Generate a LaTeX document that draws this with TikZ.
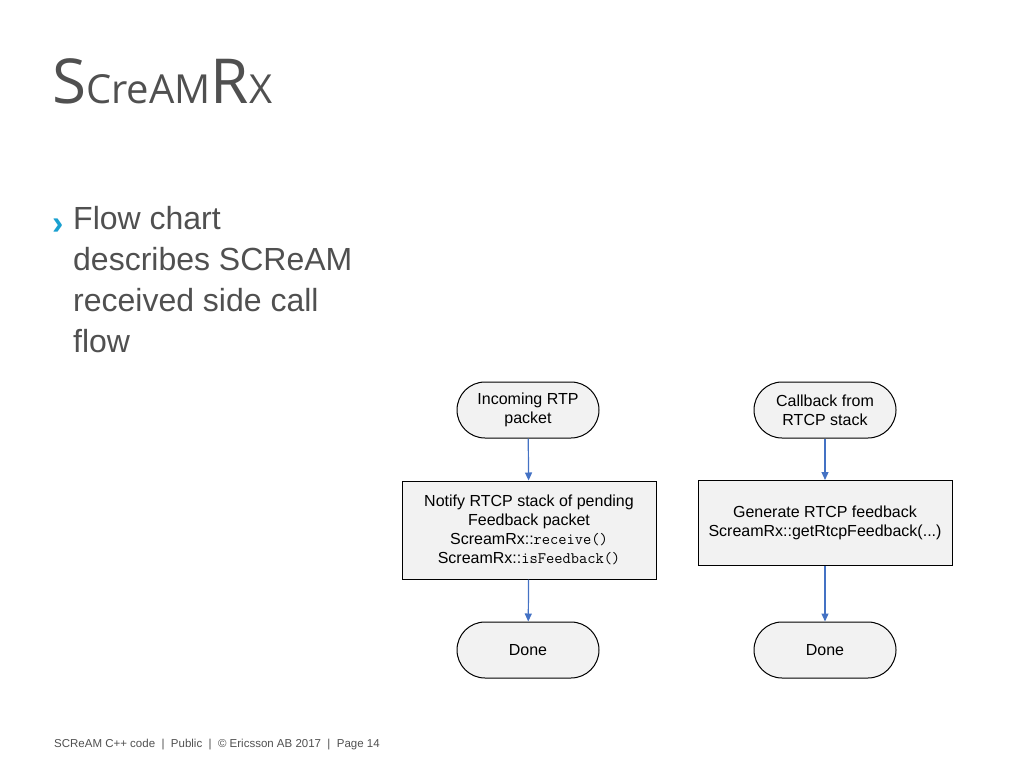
\documentclass[tikz,border=0pt]{standalone}
\usepackage{fontspec}
\setmainfont{Liberation Sans}
\newfontfamily\titlefont{Open Sans}
\usetikzlibrary{positioning,arrows.meta}
\definecolor{txtgray}{HTML}{505050}
\definecolor{chevblue}{HTML}{1AA0D0}
\definecolor{arrblue}{HTML}{4472C4}
\definecolor{boxfill}{HTML}{F2F2F2}
\tikzset{
  term/.style={draw=black, fill=boxfill, rounded corners=28pt, minimum width=142pt,
    minimum height=56pt, align=center, font=\fontsize{16}{19}\selectfont, line width=1pt},
  proc/.style={draw=black, fill=boxfill, minimum width=254pt, align=center,
    font=\fontsize{16}{19}\selectfont, line width=1pt},
  flow/.style={-{Triangle[length=8pt,width=7pt]}, arrblue, line width=1.2pt}
}
\begin{document}
\begin{tikzpicture}[x=1pt,y=-1pt]
  \useasboundingbox (0,0) rectangle (1024,768);
  % title and bullet
  \node[anchor=base west, text=txtgray, inner sep=0] (title) at (52,103)
    {\titlefont\fontsize{62}{70}\selectfont S\fontsize{40}{50}\selectfont CreAM\fontsize{62}{70}\selectfont R\fontsize{40}{50}\selectfont X};
  \node[anchor=base west, text=chevblue, inner sep=0] (chev) at (52,234)
    {\fontsize{34}{40}\selectfont\bfseries ›};
  \node[anchor=north west, text=txtgray, inner sep=0, align=left,
    font=\fontsize{32}{41}\selectfont] (bullet) at (73,206)
    {Flow chart\\describes SCReAM\\received side call\\flow};
  % left chart
  \node[term] (in) at (528,410) {Incoming RTP\\packet};
  \node[proc, minimum height=98pt] (notify) at (529,530)
    {Notify RTCP stack of pending\\Feedback packet\\ScreamRx::\texttt{receive()}\\ScreamRx::\texttt{isFeedback()}};
  \node[term] (done1) at (528,650) {Done};
  % right chart
  \node[term] (cb) at (825,410) {Callback from\\RTCP stack};
  \node[proc, minimum height=85pt] (gen) at (825,523)
    {Generate RTCP feedback\\ScreamRx::getRtcpFeedback(...)};
  \node[term] (done2) at (825,650) {Done};
  \draw[flow] (in) -- (notify);
  \draw[flow] (notify) -- (done1);
  \draw[flow] (cb) -- (gen);
  \draw[flow] (gen) -- (done2);
  % footer
  \node[anchor=base west, text=txtgray, inner sep=0] (foot) at (54,747)
    {\fontsize{11.5}{13}\selectfont SCReAM C++ code\ \ |\ \ Public\ \ |\ \ © Ericsson AB 2017\ \ |\ \ Page 14};
\end{tikzpicture}
\end{document}
